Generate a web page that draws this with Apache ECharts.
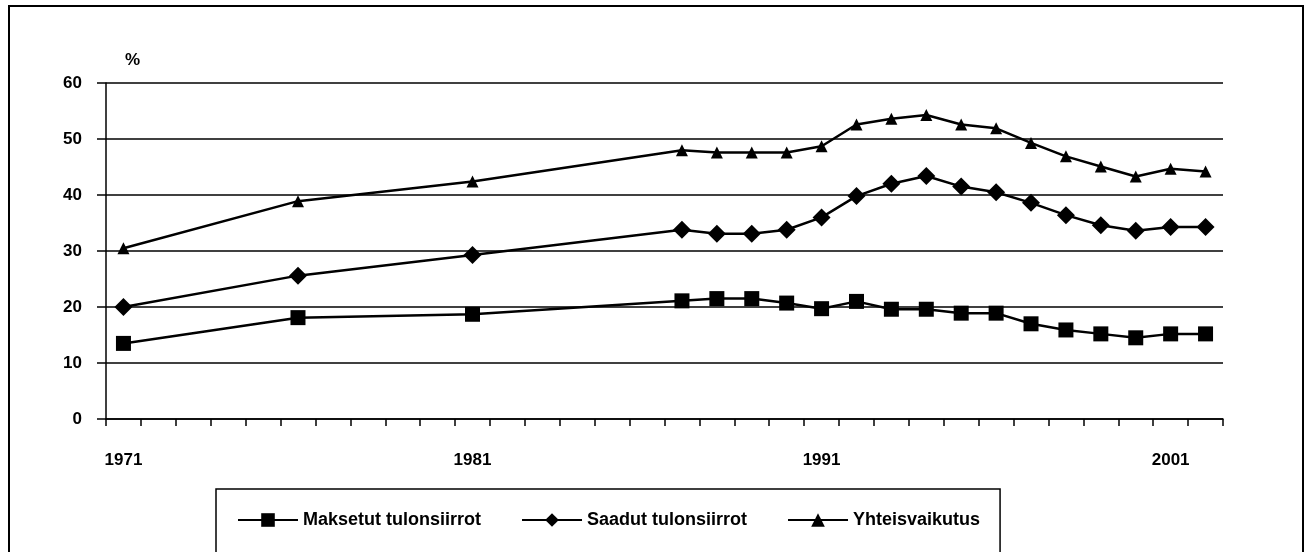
<!DOCTYPE html>
<html>
<head>
<meta charset="utf-8">
<script src="https://cdn.jsdelivr.net/npm/echarts@6/dist/echarts.min.js"></script>
<style>
html,body{margin:0;padding:0;background:#fff;}
#chart{width:1305px;height:552px;}
</style>
</head>
<body>
<div id="chart"></div>
<script>
const categories = ['1971','1972','1973','1974','1975','1976','1977','1978','1979','1980',
  '1981','1982','1983','1984','1985','1986','1987','1988','1989','1990',
  '1991','1992','1993','1994','1995','1996','1997','1998','1999','2000','2001','2002'];
const pointYears = ['1971','1976','1981','1987','1988','1989','1990','1991','1992','1993',
  '1994','1995','1996','1997','1998','1999','2000','2001','2002'];
const maksetut = [13.5, 18.1, 18.7, 21.1, 21.5, 21.5, 20.7, 19.7, 21.0, 19.6,
  19.6, 18.9, 18.9, 17.0, 15.9, 15.2, 14.5, 15.2, 15.2];
const saadut = [20.0, 25.6, 29.3, 33.8, 33.1, 33.1, 33.8, 36.0, 39.8, 42.0,
  43.4, 41.5, 40.5, 38.6, 36.4, 34.6, 33.6, 34.3, 34.3];
const yhteis = [30.5, 38.9, 42.4, 48.0, 47.6, 47.6, 47.6, 48.7, 52.6, 53.6,
  54.3, 52.6, 51.9, 49.3, 46.9, 45.1, 43.3, 44.7, 44.2];
const seriesNames = ['Maksetut tulonsiirrot', 'Saadut tulonsiirrot', 'Yhteisvaikutus'];
const yTicks = {min: 0, max: 60, interval: 10};

function toSeries(vals) {
  return categories.map(c => {
    const i = pointYears.indexOf(c);
    return i < 0 ? null : vals[i];
  });
}

const FONT = '"Liberation Sans", Arial, sans-serif';
const chart = echarts.init(document.getElementById('chart'), null, {renderer: 'canvas'});
const lineBase = {
  type: 'line',
  connectNulls: true,
  lineStyle: {color: '#000', width: 2.5},
  itemStyle: {color: '#000'},
  animation: false
};
chart.setOption({
  backgroundColor: '#fff',
  animation: false,
  title: {
    text: '%', left: 120, top: 47,
    textStyle: {fontFamily: FONT, fontSize: 17, fontWeight: 'bold', color: '#000'}
  },
  graphic: [{
    type: 'rect', silent: true,
    shape: {x: 9, y: 6, width: 1294, height: 560},
    style: {fill: 'none', stroke: '#000', lineWidth: 2}
  }],
  grid: {left: 106, right: 82, top: 83, bottom: 133},
  legend: {
    left: 216, top: 489,
    orient: 'horizontal',
    itemWidth: 60, itemHeight: 17, itemGap: 40,
    padding: [22, 20, 40, 21],
    borderColor: '#000', borderWidth: 1.5,
    textStyle: {fontFamily: FONT, fontSize: 18, fontWeight: 'bold', color: '#000'},
    data: seriesNames
  },
  xAxis: {
    type: 'category',
    data: categories,
    boundaryGap: true,
    axisLine: {lineStyle: {color: '#000', width: 1.5}},
    axisTick: {show: true, interval: 0, length: 7, lineStyle: {color: '#000', width: 1.5}},
    axisLabel: {interval: 9, color: '#000', fontFamily: FONT, fontSize: 17, fontWeight: 'bold', margin: 33},
    splitLine: {show: false}
  },
  yAxis: {
    type: 'value',
    min: yTicks.min, max: yTicks.max, interval: yTicks.interval,
    axisLine: {show: true, lineStyle: {color: '#000', width: 1.5}},
    axisTick: {show: true, length: 9, lineStyle: {color: '#000', width: 1.5}},
    axisLabel: {color: '#000', fontFamily: FONT, fontSize: 17, fontWeight: 'bold', margin: 24},
    splitLine: {show: true, lineStyle: {color: '#000', width: 1.5}}
  },
  series: [
    Object.assign({}, lineBase, {name: seriesNames[0], symbol: 'rect', symbolSize: 15, data: toSeries(maksetut)}),
    Object.assign({}, lineBase, {name: seriesNames[1], symbol: 'diamond', symbolSize: 18, data: toSeries(saadut)}),
    Object.assign({}, lineBase, {name: seriesNames[2], symbol: 'triangle', symbolSize: 12, data: toSeries(yhteis)})
  ]
});
</script>
</body>
</html>
